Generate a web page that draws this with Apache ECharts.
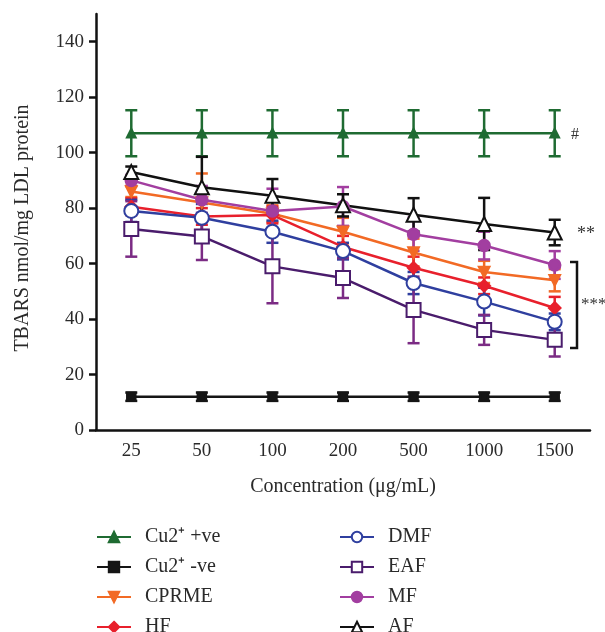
<!DOCTYPE html>
<html>
<head>
<meta charset="utf-8">
<script src="https://cdn.jsdelivr.net/npm/echarts@6/dist/echarts.min.js"></script>
<style>
  html, body { margin: 0; padding: 0; background: #fff; }
  #chart { width: 605px; height: 632px; }
</style>
</head>
<body>
<div id="chart"></div>
<script>
const categories = ["25", "50", "100", "200", "500", "1000", "1500"];
const yTicks = [0, 20, 40, 60, 80, 100, 120, 140];

const cuPos = [107, 107, 107, 107, 107, 107, 107];
const cuPosErr = [8.3, 8.3, 8.3, 8.3, 8.3, 8.3, 8.3];
const cuNeg = [12, 12, 12, 12, 12, 12, 12];
const cuNegErr = [1.5, 1.5, 1.5, 1.5, 1.5, 1.5, 1.5];
const cprme = [86, 82, 78, 71.5, 64, 57, 54];
const cprmeErr = [2, 10.5, 3, 5, 5, 4, 4];
const hf = [80.5, 77, 77.5, 66, 58.5, 52, 44];
const hfErr = [3, 3, 3, 4, 4, 3, 4];
const dmf = [79, 76.5, 71.5, 64.5, 53, 46.3, 39];
const dmfErr = [4, 5, 4, 3, 4, 5, 3];
const eaf = [72.5, 69.8, 59, 54.8, 43.3, 36.1, 32.5];
const eafErr = [10, 8.5, 13.3, 7.2, 12, 5.4, 6];
const mf = [90, 83, 79, 80.6, 70.6, 66.5, 59.5];
const mfErr = [2, 5, 8, 7, 6, 5, 5];
const af = [93, 87.5, 84.5, 81, 77.6, 74.3, 71.2];
const afErr = [2, 11, 6, 4, 6, 9.4, 4.6];

const FONT = "Liberation Serif";

const groups = [
  { name: "Cu2⁺ +ve", data: cuPos, err: cuPosErr, color: "#1f6b32", symbol: "triangle", size: 8 },
  { name: "Cu2⁺ -ve", data: cuNeg, err: cuNegErr, color: "#151515", symbol: "rect", size: 8 },
  { name: "CPRME", data: cprme, err: cprmeErr, color: "#f26a25", symbol: "triangle", size: 10, rotate: 180 },
  { name: "HF", data: hf, err: hfErr, color: "#e8202c", symbol: "diamond", size: 11 },
  { name: "DMF", data: dmf, err: dmfErr, color: "#2f3f9f", symbol: "emptyCircle", size: 14 },
  { name: "EAF", data: eaf, err: eafErr, color: "#4a1c6c", errColor: "#7b2b84", symbol: "emptyRect", size: 14 },
  { name: "MF", data: mf, err: mfErr, color: "#a23ea0", symbol: "circle", size: 11 },
  { name: "AF", data: af, err: afErr, color: "#111111", symbol: "emptyTriangle", size: 14 },
];

function errorSeries(g) {
  return {
    type: "custom",
    name: g.name + "_err",
    z: 1,
    silent: true,
    data: g.data.map((v, i) => [i, v - g.err[i], v + g.err[i]]),
    renderItem(params, api) {
      const lo = api.coord([api.value(0), api.value(1)]);
      const hi = api.coord([api.value(0), api.value(2)]);
      const half = 6;
      const style = { stroke: g.errColor || g.color, lineWidth: 2.5 };
      return {
        type: "group",
        children: [
          { type: "line", shape: { x1: lo[0], y1: lo[1], x2: hi[0], y2: hi[1] }, style },
          { type: "line", shape: { x1: lo[0] - half, y1: lo[1], x2: lo[0] + half, y2: lo[1] }, style },
          { type: "line", shape: { x1: hi[0] - half, y1: hi[1], x2: hi[0] + half, y2: hi[1] }, style },
        ],
      };
    },
  };
}

function lineSeries(g) {
  return {
    type: "line",
    name: g.name,
    z: 3,
    data: g.data,
    symbol: g.symbol,
    symbolSize: g.size,
    symbolRotate: g.rotate || 0,
    showAllSymbol: true,
    lineStyle: { color: g.color, width: 2.5 },
    itemStyle: { color: g.color, borderColor: g.color, borderWidth: 2.5 },
    emphasis: { disabled: true },
  };
}

const series = [];
groups.forEach((g) => series.push(errorSeries(g)));
groups.forEach((g) => series.push(lineSeries(g)));

const legendText = {
  fontFamily: FONT, fontSize: 20, color: "#2a2a2a", lineHeight: 20, padding: [0, 0, 0, 9],
};

function legendBlock(names, left) {
  return {
    orient: "vertical",
    left,
    top: 527,
    height: 130,
    padding: 0,
    itemWidth: 34,
    itemHeight: 13,
    itemGap: 10,
    textStyle: legendText,
    data: names,
    selectedMode: false,
  };
}

const chart = echarts.init(document.getElementById("chart"), null, { renderer: "canvas" });
chart.setOption({
  animation: false,
  backgroundColor: "#fff",
  grid: { left: 96, right: 15, top: 14, bottom: 202, containLabel: false },
  xAxis: {
    type: "category",
    data: categories,
    boundaryGap: true,
    name: "Concentration (μg/mL)",
    nameLocation: "middle",
    nameGap: 47,
    nameTextStyle: { fontFamily: FONT, fontSize: 20, color: "#2a2a2a" },
    axisLine: { lineStyle: { color: "#111", width: 2.5 } },
    axisTick: { alignWithLabel: true, length: 7, lineStyle: { color: "#111", width: 2.5 } },
    axisLabel: { fontFamily: FONT, fontSize: 19, color: "#2a2a2a", margin: 12 },
    splitLine: { show: false },
  },
  yAxis: {
    type: "value",
    min: 0,
    max: 150,
    interval: 20,
    name: "TBARS nmol/mg LDL protein",
    nameLocation: "middle",
    nameGap: 63,
    nameTextStyle: { fontFamily: FONT, fontSize: 20, color: "#2a2a2a", padding: [0, 12, 0, 0] },
    axisLine: { show: true, lineStyle: { color: "#111", width: 2.5 } },
    axisTick: { show: true, length: 7, customValues: yTicks, lineStyle: { color: "#111", width: 2.5 } },
    axisLabel: { fontFamily: FONT, fontSize: 19, color: "#2a2a2a", margin: 12, customValues: yTicks },
    splitLine: { show: false },
  },
  legend: [
    legendBlock(groups.slice(0, 4).map((g) => g.name), 96),
    legendBlock(groups.slice(4).map((g) => g.name), 339),
  ],
  graphic: [
    { type: "text", left: 571, top: 127, style: { text: "#", font: "16px " + FONT, fill: "#333" } },
    { type: "text", left: 577, top: 225, style: { text: "**", font: "18px " + FONT, fill: "#333" } },
    { type: "text", left: 581, top: 296, style: { text: "***", font: "17px " + FONT, fill: "#333" } },
    {
      type: "polyline",
      shape: { points: [[570, 262], [577, 262], [577, 348], [570, 348]] },
      style: { stroke: "#111", lineWidth: 2.5, fill: null },
    },
  ],
  series,
});
</script>
</body>
</html>
